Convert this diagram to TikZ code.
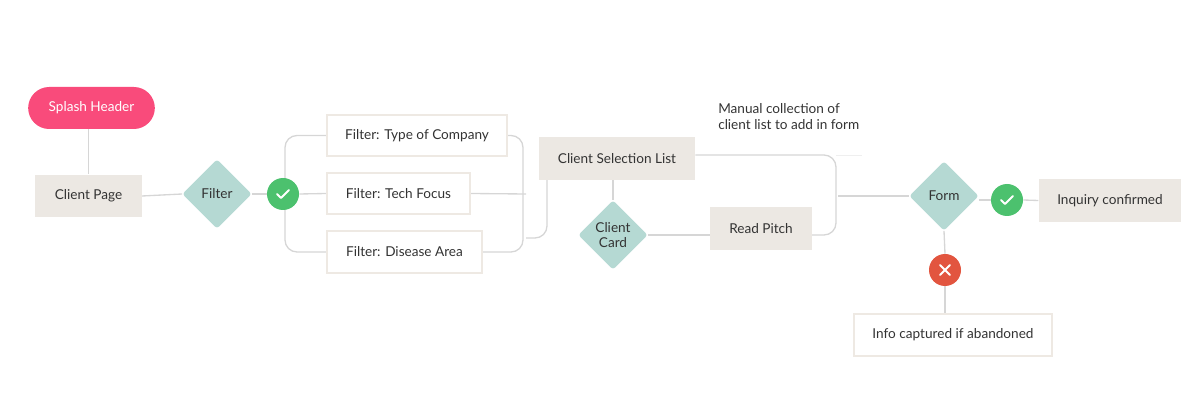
\documentclass[tikz,border=0pt]{standalone}
\usepackage{fontspec}
\setmainfont{Lato}
\usetikzlibrary{shapes.geometric,calc,backgrounds}
\definecolor{beige}{HTML}{ECE8E3}
\definecolor{pinkc}{HTML}{F94B7B}
\definecolor{teal}{HTML}{B5D9D3}
\definecolor{greenc}{HTML}{4CC16E}
\definecolor{redc}{HTML}{E2553F}
\definecolor{linec}{HTML}{D6D6D6}
\definecolor{txt}{HTML}{333333}
\definecolor{bord}{HTML}{EEE9E3}
\begin{document}
\begin{tikzpicture}[x=0.75pt,y=-0.75pt,
  every node/.style={font=\fontsize{10.2pt}{12.4pt}\selectfont, text=txt},
  bbox/.style={fill=beige, minimum height=32pt, inner sep=0},
  wbox/.style={fill=white, draw=bord, line width=1.5pt, minimum height=31pt, inner sep=0},
  dia/.style={diamond, fill=teal, minimum width=52pt, minimum height=52pt, inner sep=0, rounded corners=2pt},
  ok/.style={circle, fill=greenc, minimum size=24pt, inner sep=0},
  ln/.style={draw=linec, line width=1pt, rounded corners=9pt}]
\useasboundingbox (0,0) rectangle (1200,420);
\node[fill=pinkc, rounded corners=15.75pt, minimum width=95pt, minimum height=31.5pt, text=white] (splash) at (91.5,108) {Splash Header};
\node[bbox, minimum width=80pt] (cp) at (88.5,196) {Client Page};
\node[dia] (filter) at (217,194) {Filter};
\node[ok] (c1) at (283,194) {};
\node[wbox, minimum width=135pt] (t1) at (417,135.5) {Filter: Type of Company};
\node[wbox, minimum width=107pt] (t2) at (398.5,193.5) {Filter: Tech Focus};
\node[wbox, minimum width=116pt] (t3) at (404.5,252) {Filter: Disease Area};
\node[bbox, minimum width=117pt] (csl) at (617,158.5) {Client Selection List};
\node[dia, align=center, font=\fontsize{10.2pt}{11.5pt}\selectfont] (cc) at (613,235) {Client\\Card};
\node[bbox, minimum width=76pt] (rp) at (761,228.5) {Read Pitch};
\node[dia] (form) at (944,196) {Form};
\node[ok] (c2) at (1007,200) {};
\node[bbox, minimum width=107pt] (inq) at (1110,200.5) {Inquiry confirmed};
\node[circle, fill=redc, minimum size=24pt, inner sep=0] (x1) at (945,270) {};
\node[wbox, minimum width=149pt, minimum height=32pt] (info) at (953,335) {Info captured if abandoned};
\node[anchor=north west, align=left, inner sep=0] (note) at (718,103) {Manual collection of\\client list to add in form};
\coordinate (j1) at (526,194);
\coordinate (j2) at (838,196);
\begin{scope}[on background layer]
\draw[ln] (splash.south -| cp.north) -- (cp.north);
\draw[ln] (cp.east) -- (filter.west);
\draw[ln] (filter.east) -- (c1.west);
\draw[ln] (t1.west) -- (285,0 |- t1.west) -- (285,0 |- t3.west) -- (t3.west);
\draw[ln] (c1.east) -- (t2.west);
\draw[ln] (t1.east) -- (523,0 |- t1.east) -- (523,0 |- t3.east) -- (t3.east);
\draw[ln] (t2.east) -- (j1);
\draw[ln] (526,238) -- (547,238) -- (547,0 |- csl.south);
\draw[ln] (csl.south -| cc.north) -- (cc.north);
\draw[ln] (cc.east) -- (rp.west |- cc.east);
\draw[ln] (csl.east |- 0,155) -- (836,155) -- (836,235) -- (rp.east |- 0,235);
\draw[draw=linec!40, line width=0.6pt] (836,155) -- (862,155);
\draw[ln] (j2) -- (form.west);
\draw[ln] (form.east |- c2.west) -- (c2.west);
\draw[ln] (c2.east) -- (inq.west);
\draw[ln] (form.south) -- (x1.north);
\draw[ln] (x1.south) -- (info.north -| x1.south);
\end{scope}
\foreach \c in {c1,c2}
  \draw[white, line width=1.5pt, line cap=round, line join=round] ($(\c)+(-6,0)$) -- ($(\c)+(-2,4)$) -- ($(\c)+(6,-4)$);
\draw[white, line width=1.5pt, line cap=round] ($(x1)+(-5,-5)$) -- ($(x1)+(5,5)$) ($(x1)+(5,-5)$) -- ($(x1)+(-5,5)$);
\end{tikzpicture}
\end{document}
